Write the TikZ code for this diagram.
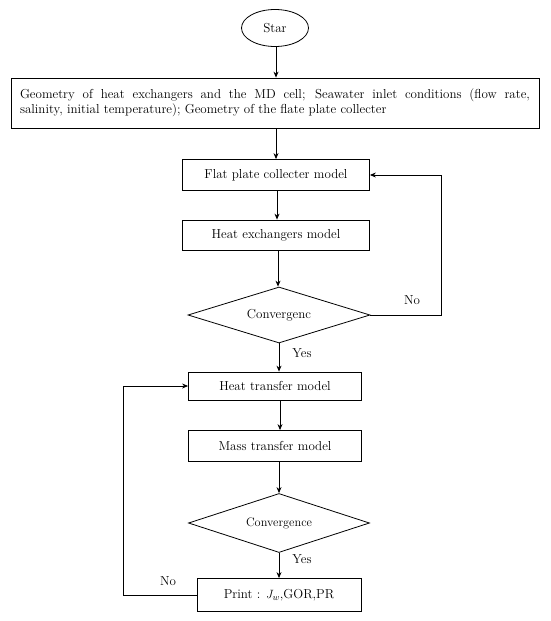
\documentclass[tikz,border=0pt]{standalone}
\usetikzlibrary{shapes.geometric,arrows.meta}
\begin{document}
\begin{tikzpicture}[x=1pt,y=-1pt,
  every node/.style={font=\fontsize{13}{15.5}\selectfont},
  box/.style={draw,line width=0.8pt,inner sep=0pt,minimum height=30pt},
  dec/.style={draw,line width=0.8pt,diamond,aspect=3.2,inner sep=0pt},
  arr/.style={line width=0.8pt,-{Stealth[length=6pt,width=5pt]}},
  ln/.style={line width=0.8pt}]
\useasboundingbox (0,0) rectangle (550,621);
\node[draw,line width=0.8pt,ellipse,minimum width=67pt,minimum height=37pt,inner sep=0pt] (star) at (275,28) {Star};
\node[box,minimum width=528pt,minimum height=50pt] (geo) at (275,103) {};
\node[text width=510pt,align=justify,inner sep=0pt] (geotext) at (275,103)
  {Geometry of heat exchangers and the MD cell; Seawater inlet conditions (flow rate,\linebreak salinity, initial temperature); Geometry of the flate plate collecter};
\node[box,minimum width=187pt,minimum height=31pt] (flat) at (276,175) {Flat plate collecter model};
\node[box,minimum width=187pt,minimum height=30pt] (hex) at (276,235) {Heat exchangers model};
\node[dec,minimum width=182pt,minimum height=56pt] (d1) at (279,315) {Convergenc};
\node[box,minimum width=173pt,minimum height=28pt] (ht) at (275,386) {Heat transfer model};
\node[box,minimum width=173pt,minimum height=31pt] (mt) at (275,446) {Mass transfer model};
\node[dec,minimum width=181pt,minimum height=59pt,font=\fontsize{12.3}{14}\selectfont] (d2) at (279,523) {Convergence};
\node[box,minimum width=164pt,minimum height=33pt] (pr) at (279,595) {Print : $J_w$,GOR,PR};
\coordinate (r1) at (441,315);
\coordinate (l1) at (123,595);
\draw[arr] (276,46.5) coordinate (s0) -- (s0 |- geo.north);
\draw[arr] (276,128) coordinate (s1) -- (s1 |- flat.north);
\draw[arr] (277,190.5) coordinate (s2) -- (s2 |- hex.north);
\draw[arr] (278,250) coordinate (s3) -- (s3 |- d1.north);
\draw[arr] (d1.south) -- (d1.south |- ht.north);
\draw[arr] (280,400) coordinate (s5) -- (s5 |- mt.north);
\draw[arr] (279,461.5) coordinate (s6) -- (s6 |- d2.north);
\draw[arr] (d2.south) -- (d2.south |- pr.north);
\draw[arr] (d1.east) -- (r1) -- (r1 |- flat.east) -- (flat.east);
\draw[arr] (pr.west) -- (l1) -- (l1 |- ht.west) -- (ht.west);
\node[inner sep=0pt] (no1) at (412,300) {No};
\node[inner sep=0pt] (yes1) at (302,353) {Yes};
\node[inner sep=0pt] (yes2) at (302,559) {Yes};
\node[inner sep=0pt] (no2) at (168,581) {No};
\end{tikzpicture}
\end{document}
